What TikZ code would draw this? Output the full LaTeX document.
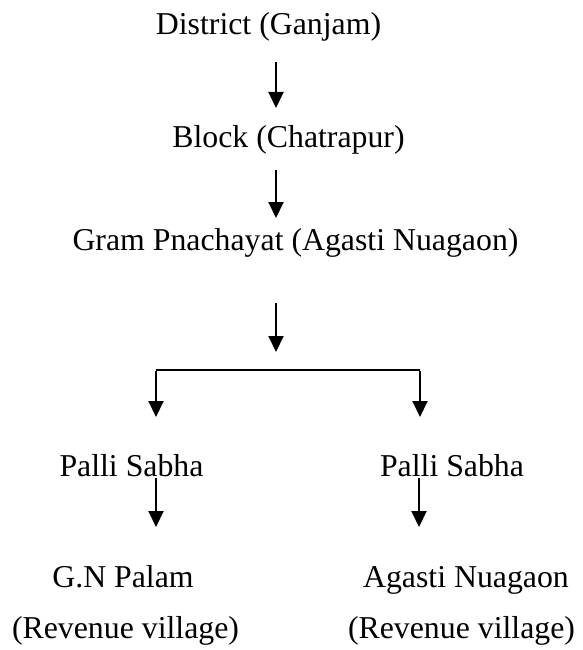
\documentclass[tikz,border=0pt]{standalone}
\usepackage{fontspec}
\setmainfont{Liberation Serif}
\usetikzlibrary{arrows.meta}
\begin{document}
\begin{tikzpicture}[x=1pt,y=-1pt,
  lbl/.style={inner sep=0pt,anchor=base,font=\fontsize{31.8}{36}\selectfont},
  arr/.style={line width=2pt,-{Triangle[length=16pt,width=15pt]}},
  ln/.style={line width=2pt}]
\useasboundingbox (0,0) rectangle (582,650);
\node[lbl] (dist) at (268.5,35) {District (Ganjam)};
\node[lbl] (block) at (288.5,147) {Block (Chatrapur)};
\node[lbl] (gp) at (295.5,250) {Gram Pnachayat (Agasti Nuagaon)};
\node[lbl] (psl) at (131.5,476) {Palli Sabha};
\node[lbl] (psr) at (452,476) {Palli Sabha};
\node[lbl] (gnp) at (123,587) {G.N Palam};
\node[lbl] (agn) at (466,587) {Agasti Nuagaon};
\node[lbl] (rvl) at (125.5,638) {(Revenue village)};
\node[lbl] (rvr) at (461.5,638) {(Revenue village)};
\coordinate (a1s) at (276,62);  \coordinate (a1e) at (276,108);
\coordinate (a2s) at (276,170); \coordinate (a2e) at (276,218);
\coordinate (a3s) at (276,303); \coordinate (a3e) at (276,352);
\coordinate (bl) at (156,370);  \coordinate (br) at (420,370);
\coordinate (ble) at (156,417); \coordinate (bre) at (420,417);
\coordinate (a4s) at (156,478); \coordinate (a4e) at (156,527);
\coordinate (a5s) at (419,478); \coordinate (a5e) at (419,527);
\draw[arr] (a1s) -- (a1e);
\draw[arr] (a2s) -- (a2e);
\draw[arr] (a3s) -- (a3e);
\draw[ln] (bl) -- (br);
\draw[arr] ([yshift=-1pt]bl) -- (ble);
\draw[arr] ([yshift=-1pt]br) -- (bre);
\draw[arr] (a4s) -- (a4e);
\draw[arr] (a5s) -- (a5e);
\end{tikzpicture}
\end{document}
